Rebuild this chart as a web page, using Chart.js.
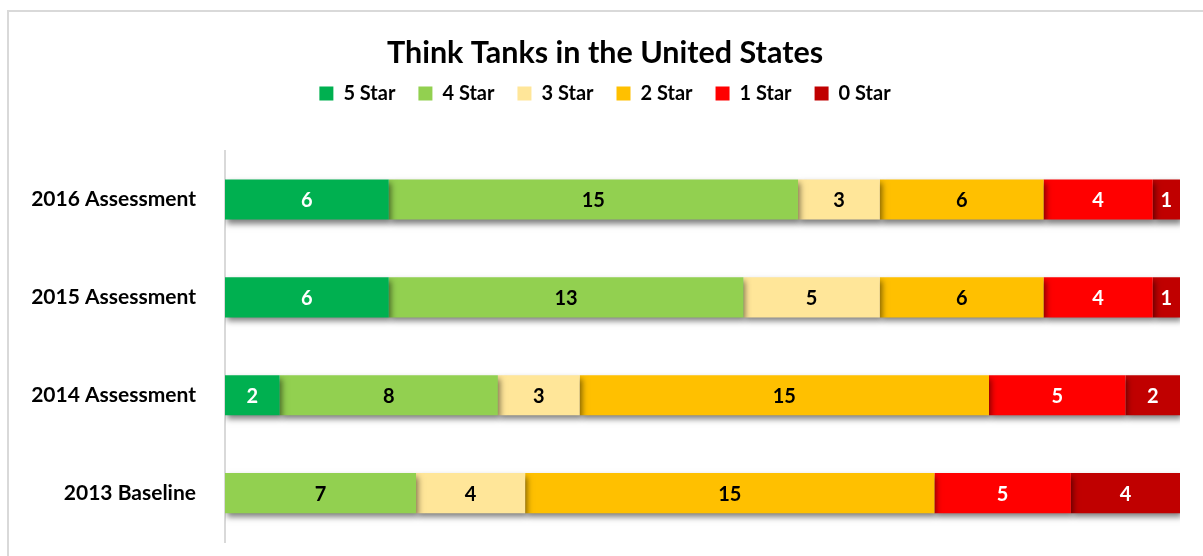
<!DOCTYPE html>
<html><head><meta charset="utf-8">
<script src="https://cdn.jsdelivr.net/npm/chart.js@4.4.1/dist/chart.umd.min.js"></script>
<style>
html,body{margin:0;padding:0;background:#fff;overflow:hidden;}
#frame{position:absolute;left:7px;top:10px;width:1300px;height:700px;border:2px solid #d9d9d9;box-sizing:border-box;}
#c{position:absolute;left:0;top:0;}
</style></head>
<body>
<div id="frame"></div>
<canvas id="c" width="1203" height="556"></canvas>
<script>
const categories = ['2016 Assessment','2015 Assessment','2014 Assessment','2013 Baseline'];
const seriesNames = ['5 Star','4 Star','3 Star','2 Star','1 Star','0 Star'];
const fiveStar  = [6, 6, 2, 0];
const fourStar  = [15, 13, 8, 7];
const threeStar = [3, 5, 3, 4];
const twoStar   = [6, 6, 15, 15];
const oneStar   = [4, 4, 5, 5];
const zeroStar  = [1, 1, 2, 4];
const seriesColors = ['#00B050','#92D050','#FFE699','#FFC000','#FF0000','#C00000'];
const labelColors  = ['#ffffff','#000000','#000000','#000000','#ffffff','#ffffff'];
const seriesValues = [fiveStar, fourStar, threeStar, twoStar, oneStar, zeroStar];
const FONT = 'Lato';

const shadowPlugin = {
  id: 'barShadow',
  beforeDatasetsDraw(chart) {
    const ctx = chart.ctx;
    ctx.save();
    ctx.shadowColor = 'rgba(0,0,0,0.5)';
    ctx.shadowBlur = 6;
    ctx.shadowOffsetX = 2;
    ctx.shadowOffsetY = 4;
  },
  afterDatasetsDraw(chart) {
    chart.ctx.restore();
  }
};

const labelPlugin = {
  id: 'segLabels',
  afterDatasetsDraw(chart) {
    const ctx = chart.ctx;
    ctx.save();
    ctx.shadowColor = 'transparent';
    ctx.font = 'bold 20px ' + FONT;
    ctx.textAlign = 'center';
    ctx.textBaseline = 'middle';
    chart.data.datasets.forEach((ds, i) => {
      const meta = chart.getDatasetMeta(i);
      meta.data.forEach((el, j) => {
        const v = ds.data[j];
        if (!v) return;
        const p = el.getProps(['x','y','base'], true);
        ctx.fillStyle = labelColors[i];
        ctx.fillText(String(v), (p.x + p.base) / 2, p.y + 1);
      });
    });
    ctx.restore();
  }
};

const legendSpace = {
  id: 'legendSpace',
  beforeInit(chart) {
    const origFit = chart.legend.fit;
    chart.legend.fit = function() {
      origFit.bind(chart.legend)();
      this.height += 37;
    };
  }
};

new Chart(document.getElementById('c'), {
  type: 'bar',
  data: {
    labels: categories,
    datasets: seriesNames.map((n, i) => ({
      label: n,
      data: seriesValues[i],
      backgroundColor: seriesColors[i],
      borderWidth: 0,
      barPercentage: 0.41,
      categoryPercentage: 1.0
    }))
  },
  options: {
    indexAxis: 'y',
    responsive: false,
    animation: false,
    devicePixelRatio: 1,
    layout: { padding: { left: 30, right: 23, top: 0, bottom: 14 } },
    scales: {
      x: { stacked: true, min: 0, max: 35, display: false },
      y: {
        stacked: true,
        grid: { display: false },
        border: { display: true, color: '#d9d9d9', width: 2 },
        ticks: { color: '#000', padding: 21, font: { family: FONT, size: 21, weight: 'bold' } },
        afterFit(scale) { scale.width = 195; scale.paddingTop = 0; scale.paddingBottom = 0; }
      }
    },
    plugins: {
      title: {
        display: true,
        text: 'Think Tanks in the United States',
        color: '#000',
        font: { family: FONT, size: 30.5, weight: 'bold' },
        padding: { top: 35, bottom: -11 }
      },
      legend: {
        position: 'top',
        labels: {
          color: '#000',
          boxWidth: 14,
          boxHeight: 14,
          padding: 23,
          font: { family: FONT, size: 20, weight: 'bold' }
        }
      },
      tooltip: { enabled: false }
    }
  },
  plugins: [shadowPlugin, labelPlugin, legendSpace]
});
</script>
</body></html>
